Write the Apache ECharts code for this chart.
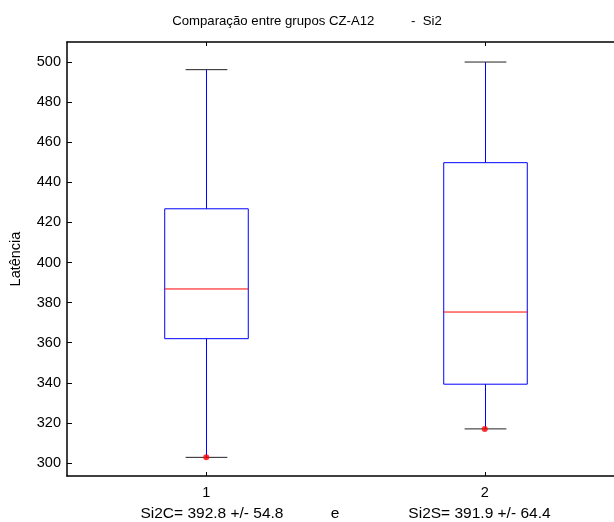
<!DOCTYPE html>
<html>
<head>
<meta charset="utf-8">
<script src="https://cdn.jsdelivr.net/npm/echarts@6/dist/echarts.min.js"></script>
<style>
html,body{margin:0;padding:0;background:#fff;}
#chart{width:614px;height:522px;}
</style>
</head>
<body>
<div id="chart"></div>
<script>
var categories = ['1', '2'];
var whiskerLow = [302.8, 317.0];
var q1 = [362.0, 339.3];
var medians = [386.8, 375.3];
var q3 = [426.8, 449.8];
var whiskerHigh = [496.2, 500.0];
var minPoints = [302.8, 317.0];
var yTicks = [300, 320, 340, 360, 380, 400, 420, 440, 460, 480, 500];
var titleText = 'Comparação entre grupos CZ-A12          -  Si2';
var yLabel = 'Latência';
var xLabel = 'Si2C= 392.8 +/- 54.8           e                Si2S= 391.9 +/- 64.4';

var FONT = 'Arial, "Liberation Sans", sans-serif';

var boxData = categories.map(function (c, i) {
  return [i, whiskerLow[i], q1[i], medians[i], q3[i], whiskerHigh[i]];
});
var pointData = categories.map(function (c, i) { return [i, minPoints[i]]; });

function renderBox(params, api) {
  var x = api.value(0);
  var band = api.size([1, 0])[0];
  var bw = band * 0.3;
  var cw = band * 0.15;
  var pLow = api.coord([x, api.value(1)]);
  var pQ1 = api.coord([x, api.value(2)]);
  var pMed = api.coord([x, api.value(3)]);
  var pQ3 = api.coord([x, api.value(4)]);
  var pHigh = api.coord([x, api.value(5)]);
  var cx = Math.round(pMed[0]) + 0.5;
  var blue = '#0000ff';
  return {
    type: 'group',
    children: [
      { type: 'line', shape: { x1: cx, y1: pHigh[1], x2: cx, y2: pQ3[1] },
        style: { stroke: blue, lineWidth: 1 } },
      { type: 'line', shape: { x1: cx, y1: pQ1[1], x2: cx, y2: pLow[1] },
        style: { stroke: blue, lineWidth: 1 } },
      { type: 'line', shape: { x1: cx - cw / 2, y1: pHigh[1], x2: cx + cw / 2, y2: pHigh[1] },
        style: { stroke: '#222', lineWidth: 1 } },
      { type: 'line', shape: { x1: cx - cw / 2, y1: pLow[1], x2: cx + cw / 2, y2: pLow[1] },
        style: { stroke: '#222', lineWidth: 1 } },
      { type: 'rect', shape: { x: cx - bw / 2, y: pQ3[1], width: bw, height: pQ1[1] - pQ3[1] },
        style: { stroke: blue, fill: null, lineWidth: 1 } },
      { type: 'line', shape: { x1: cx - bw / 2, y1: pMed[1], x2: cx + bw / 2, y2: pMed[1] },
        style: { stroke: '#ff0000', lineWidth: 1 } }
    ]
  };
}

var chart = echarts.init(document.getElementById('chart'), null, { renderer: 'canvas' });
chart.setOption({
  animation: false,
  backgroundColor: '#fff',
  title: {
    text: titleText,
    left: 'center',
    top: 10,
    textStyle: { fontFamily: FONT, fontSize: 13.2, fontWeight: 'normal', color: '#000' }
  },
  grid: { left: 67, top: 42, width: 557, height: 434, outerBoundsMode: 'none', containLabel: false },
  xAxis: [{
    type: 'category',
    data: categories,
    position: 'bottom',
    boundaryGap: true,
    axisLine: { show: true, lineStyle: { color: '#000', width: 1.5 } },
    axisTick: { show: true, inside: true, length: 4, alignWithLabel: true, lineStyle: { color: '#000' } },
    axisLabel: { show: true, color: '#000', fontFamily: FONT, fontSize: 14.5, margin: 9 },
    splitLine: { show: false },
    name: xLabel,
    nameLocation: 'middle',
    nameGap: 30,
    nameTextStyle: { color: '#000', fontFamily: FONT, fontSize: 15.5 }
  }, {
    type: 'category',
    data: categories,
    position: 'top',
    boundaryGap: true,
    axisLine: { show: true, lineStyle: { color: '#000', width: 1.5 } },
    axisTick: { show: true, inside: true, length: 4, alignWithLabel: true, lineStyle: { color: '#000' } },
    axisLabel: { show: false },
    splitLine: { show: false }
  }],
  yAxis: {
    type: 'value',
    min: 293.5,
    max: 510,
    axisLine: { show: true, lineStyle: { color: '#000', width: 1.5 } },
    axisTick: { show: true, inside: true, length: 5, customValues: yTicks, lineStyle: { color: '#000' } },
    axisLabel: { show: true, customValues: yTicks, color: '#000', fontFamily: FONT, fontSize: 14.5, margin: 6 },
    splitLine: { show: false },
    name: yLabel,
    nameLocation: 'middle',
    nameRotate: 90,
    nameGap: 44,
    nameTextStyle: { color: '#000', fontFamily: FONT, fontSize: 14.5 }
  },
  series: [{
    type: 'custom',
    renderItem: renderBox,
    data: boxData,
    encode: { x: 0, y: [1, 2, 3, 4, 5] },
    clip: false
  }, {
    type: 'scatter',
    data: pointData,
    symbol: 'circle',
    symbolSize: 6,
    itemStyle: { color: '#ff0000' },
    z: 5
  }]
});
</script>
</body>
</html>
